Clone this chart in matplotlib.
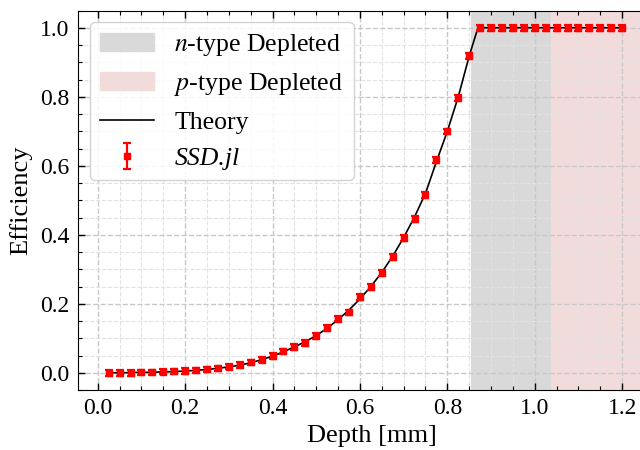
import matplotlib
matplotlib.use("Agg")
import matplotlib.pyplot as plt
from matplotlib.ticker import MultipleLocator
from matplotlib.patches import Patch
from matplotlib.lines import Line2D

plt.rcParams['font.family'] = ['Liberation Serif', 'DejaVu Serif']
plt.rcParams['mathtext.fontset'] = 'stix'

# simulated points (SSD.jl)
depth = [0.025, 0.05, 0.075, 0.1, 0.125, 0.15, 0.175, 0.2, 0.225, 0.25,
         0.275, 0.3, 0.325, 0.35, 0.375, 0.4, 0.425, 0.45, 0.475, 0.5,
         0.525, 0.55, 0.575, 0.6, 0.625, 0.65, 0.675, 0.7, 0.725, 0.75,
         0.775, 0.8, 0.825, 0.85, 0.875, 0.9, 0.925, 0.95, 0.975, 1.0,
         1.025, 1.05, 1.075, 1.1, 1.125, 1.15, 1.175, 1.2]
eff = [0.0, 0.0, 0.0, 0.001, 0.001, 0.003, 0.004, 0.005, 0.007, 0.010,
       0.013, 0.018, 0.022, 0.030, 0.038, 0.049, 0.062, 0.075, 0.086, 0.107,
       0.130, 0.157, 0.175, 0.219, 0.248, 0.289, 0.335, 0.390, 0.446, 0.516,
       0.617, 0.700, 0.796, 0.918, 1.0, 1.0, 1.0, 1.0, 1.0, 1.0,
       1.0, 1.0, 1.0, 1.0, 1.0, 1.0, 1.0, 1.0]
eff_err = [0.008] * len(depth)

# theory curve
theory_x = [0.025, 0.05, 0.075, 0.1, 0.125, 0.15, 0.175, 0.2, 0.225, 0.25,
            0.275, 0.3, 0.325, 0.35, 0.375, 0.4, 0.425, 0.45, 0.475, 0.5,
            0.525, 0.55, 0.575, 0.6, 0.625, 0.65, 0.675, 0.7, 0.725, 0.75,
            0.775, 0.8, 0.825, 0.85, 0.87, 1.2]
theory_y = [0.0, 0.0, 0.0005, 0.001, 0.0015, 0.0025, 0.0035, 0.005, 0.007, 0.0095,
            0.013, 0.017, 0.022, 0.029, 0.038, 0.048, 0.061, 0.075, 0.090, 0.108,
            0.129, 0.154, 0.182, 0.214, 0.250, 0.291, 0.338, 0.392, 0.452, 0.520,
            0.612, 0.700, 0.800, 0.918, 1.0, 1.0]

n_region = (0.855, 1.037)
p_region = (1.037, 1.4)

fig = plt.figure(figsize=(6.4, 4.5), dpi=100)
ax = fig.add_axes([0.122, 0.1333, 1.345 * 437 / 640, 0.8433])

ax.axvspan(*n_region, color='#d9d9d9', lw=0, zorder=0)
ax.axvspan(*p_region, color='#f2dcdb', lw=0, zorder=0)

ax.plot(theory_x, theory_y, c='black', lw=1.2, zorder=2)
pts = ax.errorbar(depth, eff, yerr=eff_err, fmt='s', color='red', ms=5,
                  elinewidth=1.6, capsize=3, capthick=1.6, zorder=3)

ax.set_xlim(-0.045, 1.3)
ax.set_ylim(-0.05, 1.05)
ax.xaxis.set_major_locator(MultipleLocator(0.2))
ax.xaxis.set_minor_locator(MultipleLocator(0.05))
ax.yaxis.set_major_locator(MultipleLocator(0.2))
ax.yaxis.set_minor_locator(MultipleLocator(0.05))
ax.grid(which='major', ls='--', color='#c8c8c8', lw=1.0, zorder=0.5)
ax.grid(which='minor', ls='--', color='#e2e2e2', lw=0.8, zorder=0.5)
ax.tick_params(which='both', direction='in', top=True, right=True, labelsize=17)
ax.tick_params(which='major', length=5, width=1, pad=6)
ax.tick_params(which='minor', length=3, width=0.8)

ax.set_xlabel('Depth [mm]', fontsize=19, labelpad=4)
ax.set_ylabel('Efficiency', fontsize=19, labelpad=6)

handles = [Patch(color='#d9d9d9'),
           Patch(color='#f2dcdb'),
           Line2D([], [], color='black', lw=1.2),
           pts]
labels = ['$n$-type Depleted', '$p$-type Depleted', 'Theory', 'SSD.jl']
leg = ax.legend(handles, labels, loc='upper left', fontsize=18.5, frameon=True,
                fancybox=True, edgecolor='#cccccc', framealpha=0.85,
                borderpad=0.4, handlelength=2.1, handletextpad=0.8,
                labelspacing=0.5, borderaxespad=0.45)
leg.get_texts()[3].set_fontstyle('italic')

fig.savefig('out.png', dpi=100)
